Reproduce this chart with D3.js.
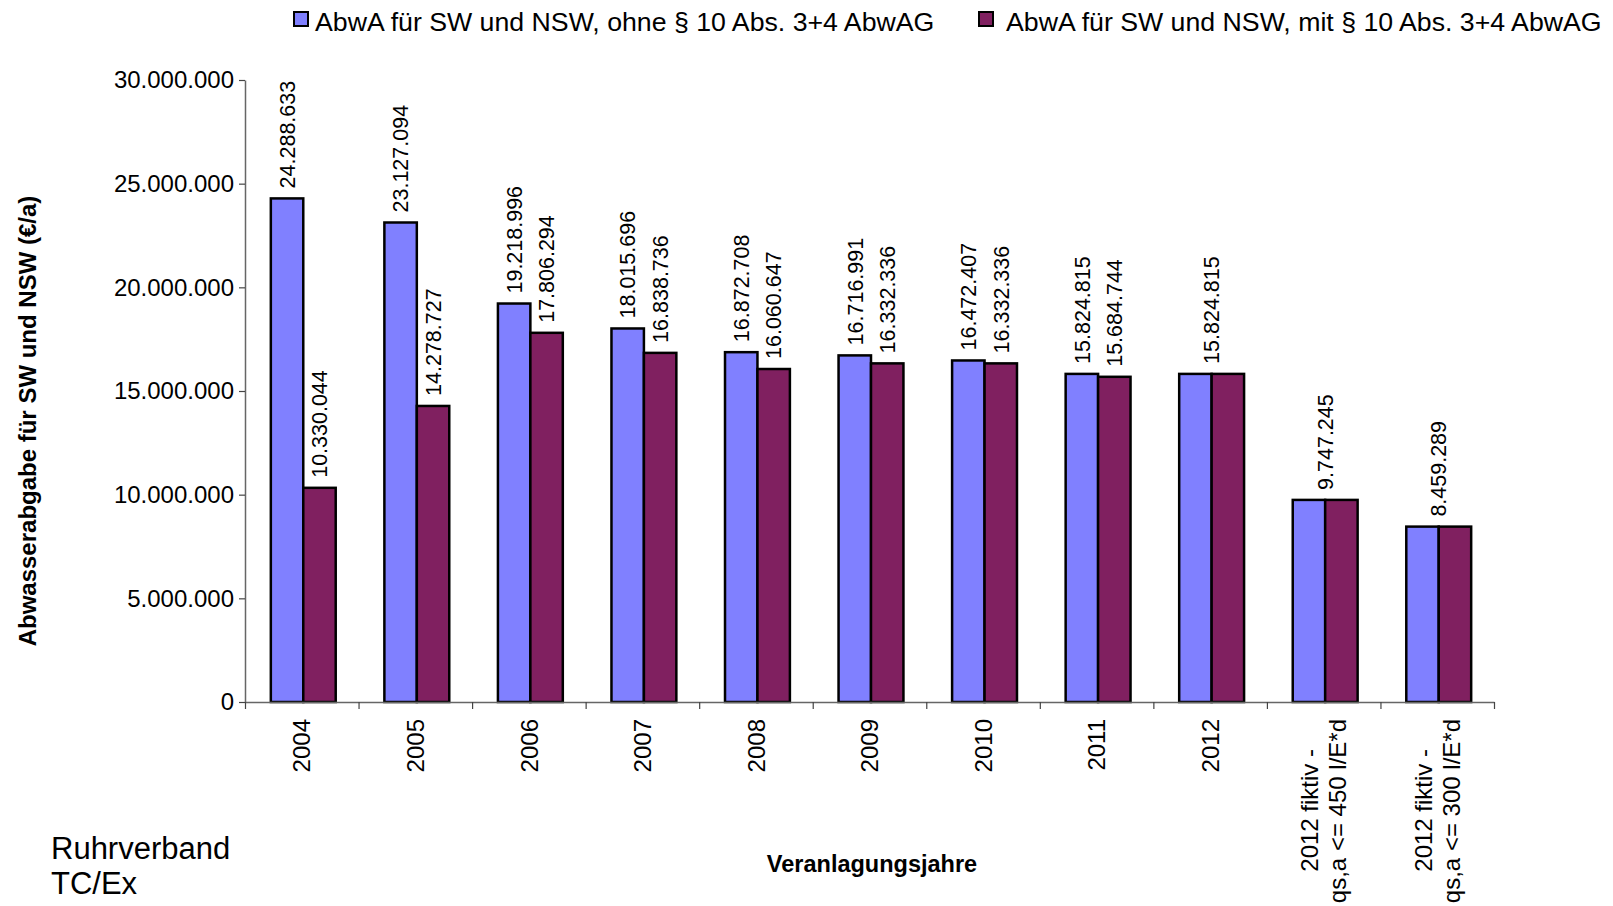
<!DOCTYPE html>
<html>
<head>
<meta charset="utf-8">
<script src="https://cdn.jsdelivr.net/npm/d3@7"></script>
<style>
  body { margin: 0; background: #fff; }
  text { font-family: "Liberation Sans", Arial, sans-serif; fill: #000; }
</style>
</head>
<body>
<div id="chart"></div>
<script>
// Data
const categories = [
    ["2004"], ["2005"], ["2006"], ["2007"], ["2008"], ["2009"],
    ["2010"], ["2011"], ["2012"],
    ["2012 fiktiv -", "qs,a <= 450 l/E*d"],
    ["2012 fiktiv -", "qs,a <= 300 l/E*d"]
]
const seriesNames = [
    "AbwA für SW und NSW, ohne § 10 Abs. 3+4 AbwAG",
    "AbwA für SW und NSW, mit § 10 Abs. 3+4 AbwAG"
]
const ohneValues = [24288633, 23127094, 19218996, 18015696, 16872708, 16716991,
    16472407, 15824815, 15824815, 9747245, 8459289]
const mitValues = [10330044, 14278727, 17806294, 16838736, 16060647, 16332336,
    16332336, 15684744, 15824815, 9747245, 8459289]
const yTicks = [0, 5000000, 10000000, 15000000, 20000000, 25000000, 30000000]

const colors = ["#8080FF", "#802060"]

// Dimensions
const width = 1613
const height = 906
const plot = { left: 245, right: 1494, top: 80, bottom: 702 }

const svg = d3.select("#chart").append("svg")
    .attr("width", width)
    .attr("height", height)

const de = d3.formatLocale({ decimal: ",", thousands: ".", grouping: [3], currency: ["", " €"] })
const fmt = de.format(",d")

// Scales
const idx = d3.range(categories.length)
const xScale = d3.scaleBand()
    .domain(idx)
    .range([plot.left, plot.right])
    .padding(0)

const groupWidth = xScale.bandwidth() * 2 / 3.5
const groupShift = 1.5
const xInner = d3.scaleBand()
    .domain([0, 1])
    .range([0, groupWidth])

const yScale = d3.scaleLinear()
    .domain([0, 30000000])
    .range([plot.bottom, plot.top])

const xEdge = d3.scaleLinear()
    .domain([0, categories.length])
    .range([plot.left, plot.right])

// Bars
const rows = idx.map(i => ({ i, values: [ohneValues[i], mitValues[i]] }))

const groups = svg.selectAll(".group")
    .data(rows)
    .enter().append("g")
    .attr("class", "group")
    .attr("transform", d => `translate(${xScale(d.i) + (xScale.bandwidth() - groupWidth) / 2 + groupShift},0)`)

groups.selectAll("rect")
    .data(d => d.values.map((v, s) => ({ v, s })))
    .enter().append("rect")
    .attr("x", d => xInner(d.s))
    .attr("y", d => yScale(d.v))
    .attr("width", xInner.bandwidth())
    .attr("height", d => plot.bottom - yScale(d.v))
    .attr("fill", d => colors[d.s])
    .attr("stroke", "#000")
    .attr("stroke-width", 2.5)

// Value labels (one centred label where both values are equal)
const labelSize = 21.5
groups.each(function (d) {
    const g = d3.select(this)
    const same = d.values[0] === d.values[1]
    const items = same
        ? [{ v: d.values[0], cx: groupWidth / 2 }]
        : d.values.map((v, s) => ({ v, cx: xInner(s) + xInner.bandwidth() / 2 }))
    g.selectAll(".val")
        .data(items)
        .enter().append("text")
        .attr("class", "val")
        .attr("font-size", labelSize + "px")
        .attr("text-anchor", "start")
        .attr("transform", v => `translate(${v.cx + labelSize * 0.36},${yScale(v.v) - 10}) rotate(-90)`)
        .text(v => fmt(v.v))
})

// Y axis
const yAxisGenerator = d3.axisLeft(yScale)
    .tickValues(yTicks)
    .tickFormat(fmt)
    .tickSize(6)
    .tickSizeOuter(0)
    .tickPadding(5)

const yAxis = svg.append("g")
    .attr("transform", `translate(${plot.left},0)`)
    .call(yAxisGenerator)
yAxis.select(".domain").attr("stroke", "#666").attr("stroke-width", 1.5)
yAxis.selectAll(".tick line").attr("stroke", "#444").attr("stroke-width", 1.2)
yAxis.selectAll(".tick text")
    .attr("font-size", "24px")
    .attr("font-family", "'Liberation Sans', Arial, sans-serif")
    .attr("fill", "#000")

// X axis
const xAxisGenerator = d3.axisBottom(xEdge)
    .tickValues(d3.range(categories.length + 1))
    .tickFormat("")
    .tickSize(7)
    .tickSizeOuter(0)

const xAxis = svg.append("g")
    .attr("transform", `translate(0,${plot.bottom})`)
    .call(xAxisGenerator)
xAxis.select(".domain").attr("stroke", "#666").attr("stroke-width", 1.5)
xAxis.selectAll(".tick line").attr("stroke", "#444").attr("stroke-width", 1.2)

// Category labels
const catSize = 24
const catLabels = svg.selectAll(".cat")
    .data(rows)
    .enter().append("text")
    .attr("class", "cat")
    .attr("font-size", catSize + "px")
    .attr("text-anchor", "end")
    .attr("transform", d => `translate(${xScale(d.i) + xScale.bandwidth() / 2},719) rotate(-90)`)

catLabels.selectAll("tspan")
    .data(d => categories[d.i].map((line, k, arr) => ({ line, k, n: arr.length })))
    .enter().append("tspan")
    .attr("x", d => (d.n > 1 && d.k === 0) ? -30 : 0)
    .attr("y", d => (d.k - (d.n - 1) / 2) * 28 + catSize * 0.36)
    .text(d => d.line)

// Axis titles
svg.append("text")
    .attr("font-size", "24px")
    .attr("font-weight", "bold")
    .attr("text-anchor", "middle")
    .attr("transform", "translate(36,421) rotate(-90)")
    .text("Abwasserabgabe für SW und NSW (€/a)")

svg.append("text")
    .attr("x", 872)
    .attr("y", 872)
    .attr("font-size", "23.5px")
    .attr("font-weight", "bold")
    .attr("text-anchor", "middle")
    .text("Veranlagungsjahre")

// Footer
svg.append("text")
    .attr("x", 51)
    .attr("y", 859)
    .attr("font-size", "31px")
    .text("Ruhrverband")
svg.append("text")
    .attr("x", 51)
    .attr("y", 894)
    .attr("font-size", "31px")
    .text("TC/Ex")

// Legend
const legendX = [294, 979]
const legendTextX = [21, 27]
const legend = svg.selectAll(".legend")
    .data(seriesNames)
    .enter().append("g")
    .attr("class", "legend")
    .attr("transform", (d, i) => `translate(${legendX[i]},12)`)

legend.append("rect")
    .attr("width", 14)
    .attr("height", 14)
    .attr("fill", (d, i) => colors[i])
    .attr("stroke", "#000")
    .attr("stroke-width", 2)

legend.append("text")
    .attr("x", (d, i) => legendTextX[i])
    .attr("y", 19)
    .attr("font-size", "26.7px")
    .text(d => d)
</script>
</body>
</html>
